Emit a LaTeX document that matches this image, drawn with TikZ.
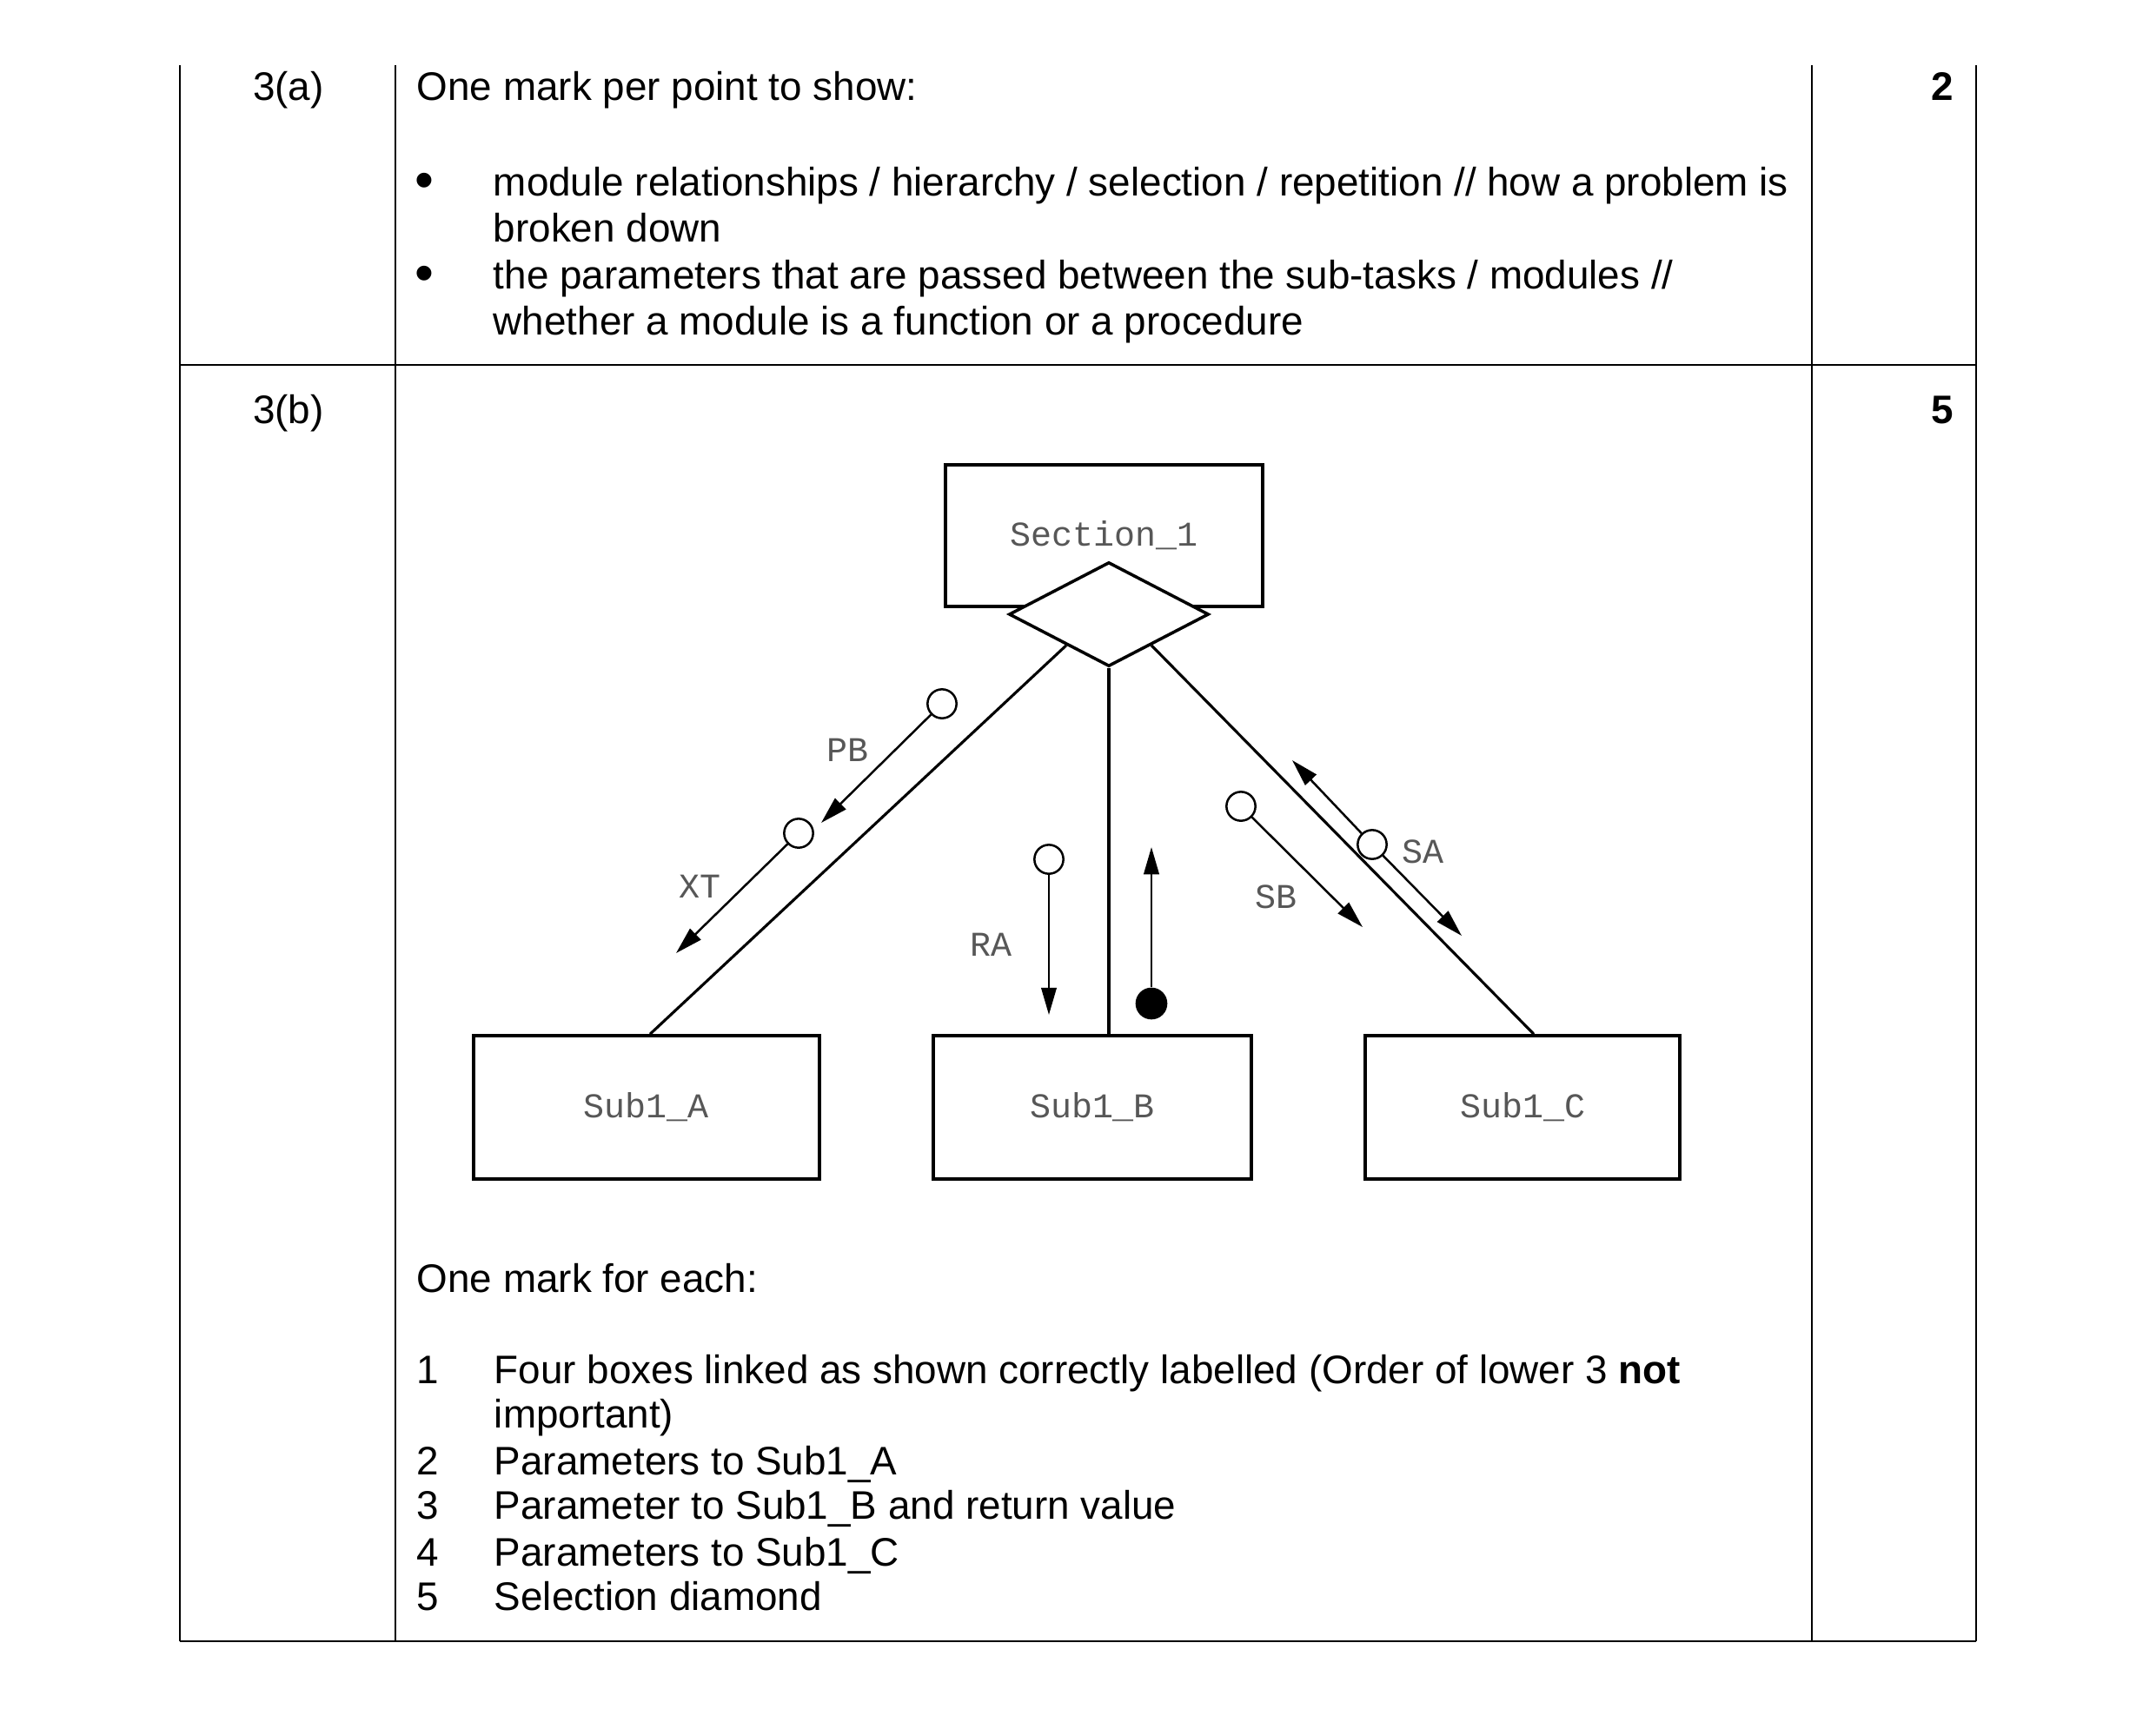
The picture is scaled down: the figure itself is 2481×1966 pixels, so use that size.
\documentclass[tikz,border=0pt]{standalone}
\usepackage{fontspec}
\setmainfont{Liberation Sans}
\newfontfamily\dgmono{Liberation Mono}
\usetikzlibrary{arrows.meta,calc,shapes.geometric}
\begin{document}
\begin{tikzpicture}[x=0.24pt,y=-0.24pt,
  txt/.style={anchor=base west, inner sep=0pt, font=\fontsize{11pt}{13pt}\selectfont},
  ctxt/.style={anchor=base, inner sep=0pt, font=\fontsize{11pt}{13pt}\selectfont},
  bul/.style={anchor=base, inner sep=0pt, font=\fontsize{15pt}{15pt}\selectfont},
  rtxt/.style={anchor=base east, inner sep=0pt, font=\fontsize{11pt}{13pt}\selectfont\bfseries},
  mono/.style={font=\dgmono\fontsize{9.6pt}{11pt}\selectfont, text=black!66, inner sep=0pt},
  modbox/.style={draw, line width=0.85pt, inner sep=0pt, minimum height=39.6pt, mono},
  link/.style={line width=0.75pt},
  arr/.style={line width=0.6pt, -{Triangle[length=7.5pt,width=4.2pt]}},
  opendot/.style={circle, draw, line width=0.6pt, minimum size=8pt, inner sep=0pt, fill=white},
  fulldot/.style={circle, fill=black, minimum size=8.8pt, inner sep=0pt},
  tabrule/.style={line width=0.5pt}
]
\useasboundingbox (0,0) rectangle (2481,1966);
\fill[white] (0,0) rectangle (2481,1966);

% table rules
\draw[tabrule] (207,75) -- (207,1889);
\draw[tabrule] (455,75) -- (455,1889);
\draw[tabrule] (2085,75) -- (2085,1889);
\draw[tabrule] (2274,75) -- (2274,1889);
\draw[tabrule] (207,420) -- (2274,420);
\draw[tabrule] (207,1889) -- (2274,1889);

% row 3(a)
\node[ctxt] (qa) at (332,115) {3(a)};
\node[rtxt] (ma) at (2249,115) {2};
\node[txt] (ta0) at (479,115) {One mark per point to show:};
\node[bul] (b1) at (488,228) {•};
\node[txt] (ta1) at (567,225) {module relationships / hierarchy / selection / repetition // how a problem is};
\node[txt] (ta2) at (567,278) {broken down};
\node[bul] (b2) at (488,335) {•};
\node[txt] (ta3) at (567,332) {the parameters that are passed between the sub-tasks / modules //};
\node[txt] (ta4) at (567,385) {whether a module is a function or a procedure};

% row 3(b)
\node[ctxt] (qb) at (332,487) {3(b)};
\node[rtxt] (mb) at (2249,487) {5};

% diagram
\node[modbox, minimum width=87.6pt, minimum height=39.1pt] (S) at (1270.5,616.5) {Section\_1};
\node[diamond, draw, line width=0.85pt, fill=white, minimum width=55.2pt, minimum height=28.8pt, inner sep=0pt] (dmd) at (1276,707) {};
\node[modbox, minimum width=95.5pt] (A) at (744,1274.5) {Sub1\_A};
\node[modbox, minimum width=87.8pt] (B) at (1257,1274.5) {Sub1\_B};
\node[modbox, minimum width=86.9pt] (C) at (1752,1274.5) {Sub1\_C};

\coordinate (dL) at ($(dmd.west)!0.58!(dmd.south)$);
\coordinate (dR) at ($(dmd.east)!0.58!(dmd.south)$);
\coordinate (Atop) at ($(A.north)+(4,0)$);
\coordinate (Ctop) at ($(C.north)+(13,0)$);
\draw[link] (dL) -- (Atop);
\draw[link] (dmd.south) -- (dmd.south |- B.north);
\draw[link] (dR) -- (Ctop);

% parameters to Sub1_A
\node[opendot] (pbc) at (1084,810) {};
\coordinate (pbt) at (945,947);
\draw[arr] (pbc) -- (pbt);
\node[mono] (pbl) at (975,863) {PB};
\node[opendot] (xtc) at (919,959) {};
\coordinate (xtt) at (778,1097);
\draw[arr] (xtc) -- (xtt);
\node[mono] (xtl) at (805,1020) {XT};

% parameter to Sub1_B and return value
\node[opendot] (rac) at (1207,989) {};
\coordinate (rat) at (1207,1168);
\draw[arr] (rac) -- (rat);
\node[mono] (ral) at (1140,1087) {RA};
\node[fulldot] (rtd) at (1325,1155) {};
\coordinate (rtt) at (1325,975);
\draw[arr] (rtd) -- (rtt);

% parameters to Sub1_C
\node[opendot] (sbc) at (1428,928) {};
\coordinate (sbt) at (1568,1067);
\draw[arr] (sbc) -- (sbt);
\node[mono] (sbl) at (1468,1032) {SB};
\node[opendot] (sac) at (1579,972) {};
\coordinate (sau) at (1487,875);
\coordinate (sad) at (1682,1077);
\draw[arr] (sac) -- (sau);
\draw[arr] (sac) -- (sad);
\node[mono] (sal) at (1637,980) {SA};

% mark points
\node[txt] (tb0) at (479,1487) {One mark for each:};
\node[txt] (n1) at (479,1592) {1};
\node[txt] (t1) at (568,1592) {Four boxes linked as shown correctly labelled (Order of lower 3 \textbf{not}};
\node[txt] (t1b) at (568,1643) {important)};
\node[txt] (n2) at (479,1697) {2};
\node[txt] (t2) at (568,1697) {Parameters to Sub1\_A};
\node[txt] (n3) at (479,1748) {3};
\node[txt] (t3) at (568,1748) {Parameter to Sub1\_B and return value};
\node[txt] (n4) at (479,1802) {4};
\node[txt] (t4) at (568,1802) {Parameters to Sub1\_C};
\node[txt] (n5) at (479,1853) {5};
\node[txt] (t5) at (568,1853) {Selection diamond};
\end{tikzpicture}
\end{document}
